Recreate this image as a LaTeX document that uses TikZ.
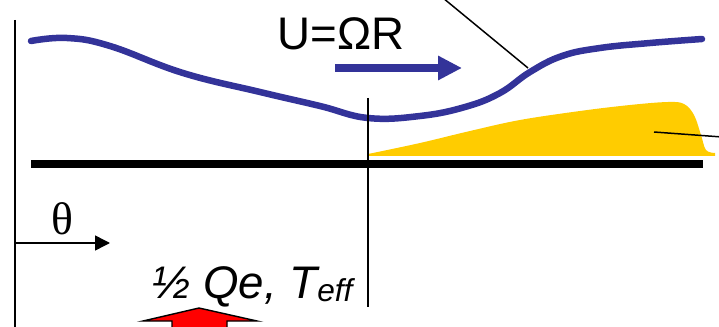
\documentclass[tikz,border=0pt]{standalone}
\usepackage{fontspec}
\setmainfont{Liberation Serif}
\setsansfont{Liberation Sans}
\usetikzlibrary{arrows.meta}
\definecolor{cflow}{HTML}{333399}
\definecolor{cgold}{HTML}{FFCC00}
\definecolor{cheat}{HTML}{FF0000}
\tikzset{
  every picture/.style={x=0.02cm, y=-0.02cm},
  wire/.style={draw=black, line width=0.85pt},
  wall/.style={draw=black, line width=0.16cm},
  flow/.style={draw=cflow, line width=0.13cm, line cap=round},
  flowarrow/.style={-{Triangle[length=0.48cm, width=0.46cm]}, draw=cflow, fill=cflow, line width=0.17cm},
  thetaarrow/.style={-{Triangle[length=0.3cm, width=0.3cm]}, wire},
  big/.style={font=\sffamily\fontsize{26}{30}\selectfont, inner sep=0pt},
}
\begin{document}
\begin{tikzpicture}
  \useasboundingbox (0,0) rectangle (719,327);
  \clip (0,0) rectangle (719,327);
  \fill[cgold] plot[smooth, tension=0.6] coordinates {(368,154) (420,143) (470,131) (520,120) (580,111) (630,105) (668,102) (684,104) (694,115) (701,135) (706,150) (715,153)} -- (715,156) -- (368,156) -- cycle;
  \draw[flow] plot[smooth, tension=0.7] coordinates {(31,41) (67,38) (110,46) (183,73) (260,92) (320,106) (368,118) (420,116) (465,107) (500,93) (530,72) (562,56) (600,48) (650,43) (702,39)};
  \draw[wall] (31,164) -- (703,164);
  \coordinate (wtop) at (15,20);
  \coordinate (wbot) at (15,330);
  \coordinate (stop) at (368,98);
  \coordinate (sbot) at (368,307);
  \draw[wire] (wtop) -- (wbot);
  \draw[wire] (stop) -- (sbot);
  \node[big] (u) at (341,34) {U=ΩR};
  \coordinate (ua) at (335,68);
  \coordinate (ub) at (462,68);
  \draw[flowarrow] (ua) -- (ub);
  \coordinate (la) at (443,-2);
  \coordinate (lb) at (528,68);
  \draw[wire] (la) -- (lb);
  \coordinate (ma) at (654,132);
  \coordinate (mb) at (722,137);
  \draw[wire] (ma) -- (mb);
  \node[font=\fontsize{26}{30}\selectfont, inner sep=0pt] (th) at (62,219) {θ};
  \coordinate (ta) at (15,243);
  \coordinate (tb) at (110,243);
  \draw[thetaarrow] (ta) -- (tb);
  \node[big, font=\sffamily\itshape\fontsize{26}{30}\selectfont, anchor=base west] (q) at (152,298) {½ Qe, T\raisebox{-2pt}{\fontsize{18}{20}\selectfont eff}};
  \draw[fill=cheat, draw=black, line width=0.8pt] (143,321) -- (199,308) -- (257,321) -- (227,321) -- (227,340) -- (172,340) -- (172,321) -- cycle;
\end{tikzpicture}
\end{document}
